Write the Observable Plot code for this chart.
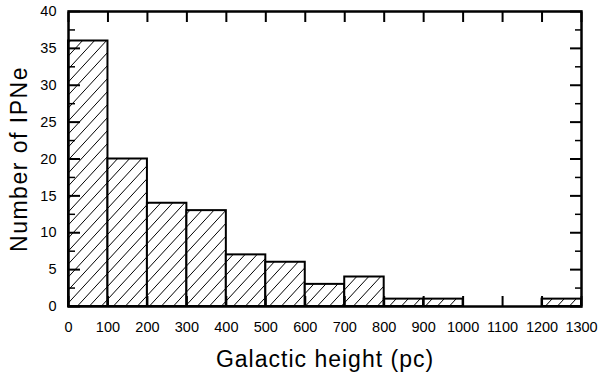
<!DOCTYPE html>
<html><head><meta charset="utf-8">
<script src="https://cdn.jsdelivr.net/npm/d3@7"></script>
<script src="https://cdn.jsdelivr.net/npm/@observablehq/plot@0.6"></script>
<style>
html,body{margin:0;padding:0;background:#fff;}
svg{display:block;}
</style>
</head><body><div id="chart"></div>
<script>
const binStart = [0, 100, 200, 300, 400, 500, 600, 700, 800, 900, 1000, 1100, 1200];
const binEnd   = [100, 200, 300, 400, 500, 600, 700, 800, 900, 1000, 1100, 1200, 1300];
const counts   = [36, 20, 14, 13, 7, 6, 3, 4, 1, 1, 0, 0, 1];
const xTicks = [0, 100, 200, 300, 400, 500, 600, 700, 800, 900, 1000, 1100, 1200, 1300];
const yTicks = [0, 5, 10, 15, 20, 25, 30, 35, 40];
const yMinorTicks = [2.5, 7.5, 12.5, 17.5, 22.5, 27.5, 32.5, 37.5];
const xTitle = "Galactic height (pc)";
const yTitle = "Number of IPNe";

const bins = binStart.map((s, i) => ({x1: s, x2: binEnd[i], count: counts[i]}));

const svg = Plot.plot({
  width: 600,
  height: 376,
  marginLeft: 68,
  marginRight: 19,
  marginTop: 11,
  marginBottom: 70,
  style: {background: "white", fontFamily: "'Liberation Sans', Arial, sans-serif", fontSize: "14.5px", color: "black"},
  x: {domain: [0, 1300], axis: null},
  y: {domain: [0, 40], axis: null},
  marks: [
    Plot.rectY(bins, {x1: "x1", x2: "x2", y: "count", fill: "url(#hatch)", stroke: "black", strokeWidth: 2}),
    // inward ticks
    Plot.axisY(yTicks, {anchor: "left", tickSize: -12, fill: "none", label: null, strokeWidth: 2}),
    Plot.axisY(yMinorTicks, {anchor: "left", tickSize: -7, fill: "none", label: null, strokeWidth: 1.5}),
    Plot.axisY(yTicks, {anchor: "right", tickSize: -12, fill: "none", label: null, strokeWidth: 2}),
    Plot.axisY(yMinorTicks, {anchor: "right", tickSize: -7, fill: "none", label: null, strokeWidth: 1.5}),
    Plot.axisX(xTicks, {anchor: "top", tickSize: -10, fill: "none", label: null, strokeWidth: 2}),
    Plot.axisX(xTicks, {anchor: "bottom", tickSize: -10, fill: "none", label: null, strokeWidth: 2}),
    // tick labels
    Plot.axisY(yTicks, {anchor: "left", tickSize: 0, tickPadding: 12, tickFormat: d => String(d), label: null}),
    Plot.axisX(xTicks, {anchor: "bottom", tickSize: 0, tickPadding: 15, tickFormat: d => String(d), label: null}),
    Plot.frame({stroke: "black", strokeWidth: 2.5}),
    // titles
    Plot.text([xTitle], {frameAnchor: "bottom", textAnchor: "middle", lineAnchor: "middle", dy: 53, fontSize: 23, text: d => d, fill: "black"}),
    Plot.text([yTitle], {frameAnchor: "left", textAnchor: "middle", lineAnchor: "middle", dx: -48.5, rotate: -90, fontSize: 23, text: d => d, fill: "black"})
  ]
});

const defs = d3.select(svg).insert("defs", ":first-child");
const pat = defs.append("pattern")
  .attr("id", "hatch")
  .attr("patternUnits", "userSpaceOnUse")
  .attr("width", 12)
  .attr("height", 13);
pat.append("rect").attr("width", 12).attr("height", 13).attr("fill", "white");
pat.append("path")
  .attr("d", "M0,13L12,0M-3,3.25L3,-3.25M9,16.25L15,9.75")
  .attr("stroke", "black")
  .attr("stroke-width", 1);

// widen the two titles slightly, as in the reference
d3.select(svg).selectAll("text").each(function() {
  const t = this.textContent;
  if (t === xTitle) this.style.letterSpacing = "1px";
  if (t === yTitle) this.style.letterSpacing = "1.5px";
});
document.getElementById("chart").appendChild(svg);
</script>
</body></html>
